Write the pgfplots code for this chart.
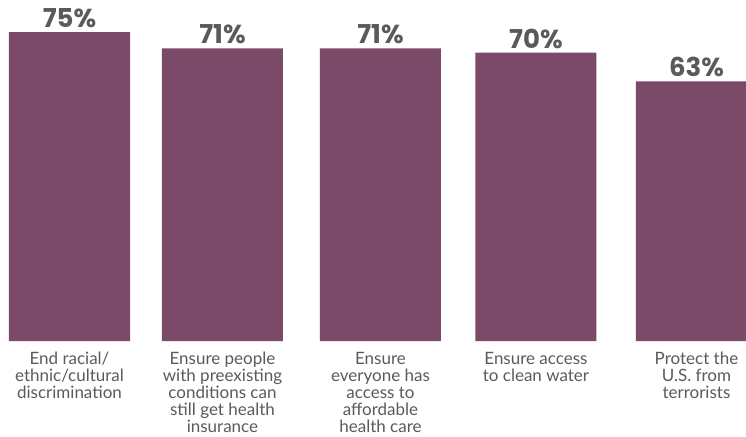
\documentclass[border=0pt]{standalone}
\usepackage{fontspec}
\setmainfont{Lato}
\newfontfamily\pctfont{Poppins}
\usepackage{pgfplots}
\pgfplotsset{compat=1.18}
\definecolor{barc}{RGB}{123,74,104}
\definecolor{txt}{RGB}{90,90,90}

\begin{document}
\begin{tikzpicture}
\begin{axis}[
  name=ax,
  scale only axis,
  width=746pt, height=341pt,
  xmin=-0.4434, xmax=4.316,
  ymin=0, ymax=82.77,
  ybar, bar width=0.772, bar shift=0pt,
  axis line style={draw=none},
  tick style={draw=none},
  ytick=\empty,
  xtick=data,
  xticklabels={
    {End racial/\\ethnic/cultural\\discrimination},
    {Ensure people\\with preexisting\\conditions can\\still get health\\insurance},
    {Ensure\\everyone has\\access to\\affordable\\health care},
    {Ensure access\\to clean water},
    {Protect the\\U.S. from\\terrorists}},
  xticklabel style={align=center, anchor=north, inner sep=0pt,
    font=\fontsize{17}{17}\selectfont, text=txt, yshift=-7pt},
  /pgf/number format/assume math mode=true,
  nodes near coords={\pgfmathprintnumber{\pgfplotspointmeta}\%},
  nodes near coords style={font=\pctfont\bfseries\fontsize{26}{26}\selectfont,
    text=txt, anchor=south, inner sep=0pt, yshift=4pt},
]
\addplot[fill=barc, draw=none] coordinates {(0,75)(0.976,71)(1.984,71)(2.976,70)(4,63)};
\end{axis}
\pgfresetboundingbox
\path (ax.south west) ++(0,-95pt) rectangle (ax.north east);
\end{tikzpicture}
\end{document}
